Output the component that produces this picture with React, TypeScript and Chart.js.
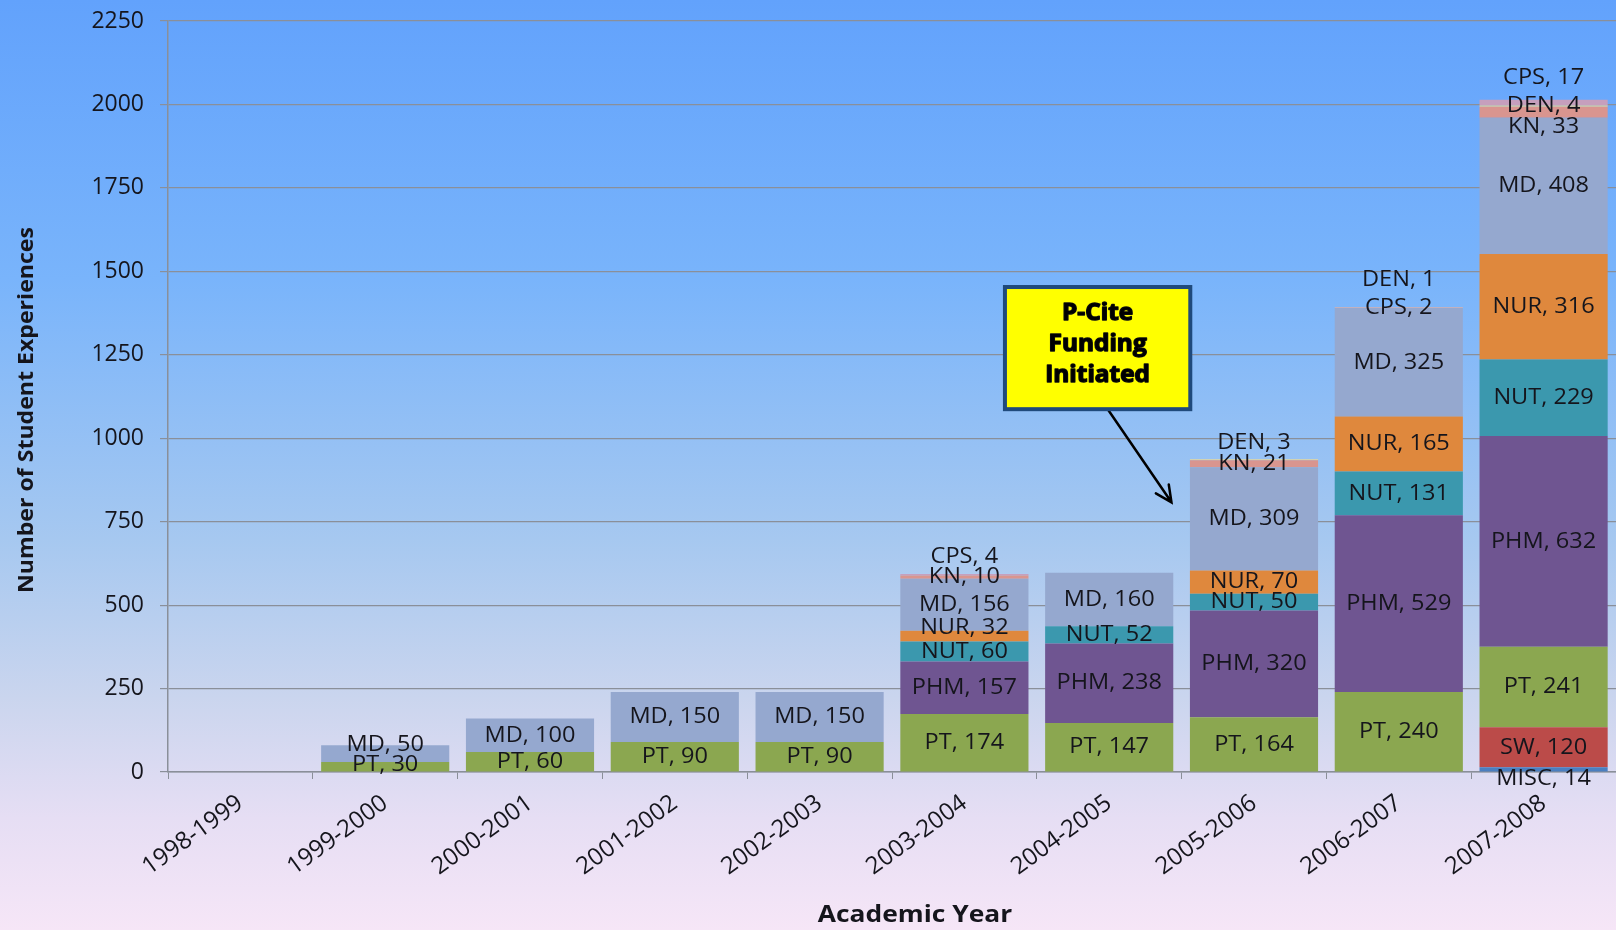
import React, { useEffect, useRef } from 'react';
import { Chart, registerables } from 'chart.js';

Chart.register(...registerables);

// ---------- DATA ----------
const categories = [
  '1998-1999', '1999-2000', '2000-2001', '2001-2002', '2002-2003',
  '2003-2004', '2004-2005', '2005-2006', '2006-2007', '2007-2008',
];

const MISC = [null, null, null, null, null, null, null, null, null, 14];
const SW = [null, null, null, null, null, null, null, null, null, 120];
const PT = [null, 30, 60, 90, 90, 174, 147, 164, 240, 241];
const PHM = [null, null, null, null, null, 157, 238, 320, 529, 632];
const NUT = [null, null, null, null, null, 60, 52, 50, 131, 229];
const NUR = [null, null, null, null, null, 32, null, 70, 165, 316];
const MD = [null, 50, 100, 150, 150, 156, 160, 309, 325, 408];
const KN = [null, null, null, null, null, 10, null, 21, null, 33];
const DEN = [null, null, null, null, null, null, null, 3, 1, 4];
const CPS = [null, null, null, null, null, 4, null, null, 2, 17];

const seriesNames = ['MISC', 'SW', 'PT', 'PHM', 'NUT', 'NUR', 'MD', 'KN', 'DEN', 'CPS'];
const seriesValues = [MISC, SW, PT, PHM, NUT, NUR, MD, KN, DEN, CPS];

const yMin = 0;
const yMax = 2250;
const yStep = 250;

const yTitle = 'Number of Student Experiences';
const xTitle = 'Academic Year';
const calloutLines = ['P-Cite', 'Funding', 'Initiated'];

// ---------- STYLE / LAYOUT ----------
const seriesColors: Record<string, string> = {
  MISC: '#4a7fc0',
  SW: '#bb4b49',
  PT: '#8ba750',
  PHM: '#6f5591',
  NUT: '#3b98ae',
  NUR: '#df883d',
  MD: '#95a8cf',
  KN: '#d9958f',
  DEN: '#e6d89c',
  CPS: '#c69fbd',
};

// vertical pixel nudges for labels of small segments (series@categoryIndex)
const labelNudge: Record<string, number> = {
  'MD@1': -9,
  'PT@1': -2,
  'CPS@5': -18,
  'NUR@5': -8,
  'DEN@7': -17,
  'DEN@8': -28,
  'CPS@9': -25,
  'KN@9': 14,
  'MISC@9': 9,
};

// callout placement in data units (category index, value)
const calloutBox = { xFrom: 5.28, xTo: 6.56, yFrom: 1087, yTo: 1453 };
const calloutArrow = { x0: 5.99, y0: 1087, x1: 6.43, y1: 808 };

const FONT = '"Open Sans", "Noto Sans", sans-serif';
const GRID = '#8a8f99';
const TEXT = '#15151c';

const overlayPlugin = {
  id: 'overlay',
  afterDatasetsDraw(chart: any) {
    const ctx = chart.ctx as CanvasRenderingContext2D;
    ctx.save();
    ctx.font = `22px ${FONT}`;
    ctx.fillStyle = TEXT;
    ctx.textAlign = 'center';
    ctx.textBaseline = 'middle';
    chart.data.datasets.forEach((ds: any, di: number) => {
      const meta = chart.getDatasetMeta(di);
      meta.data.forEach((bar: any, i: number) => {
        const v = ds.data[i];
        if (v === null || v === undefined) return;
        const p = bar.getProps(['x', 'y', 'base'], true);
        const nudge = labelNudge[`${ds.label}@${i}`] || 0;
        ctx.save();
        ctx.translate(p.x, (p.y + p.base) / 2 + nudge);
        ctx.scale(1.07, 1);
        ctx.fillText(`${ds.label}, ${v}`, 0, 0);
        ctx.restore();
      });
    });
    ctx.restore();
  },
  afterDraw(chart: any) {
    const ctx = chart.ctx as CanvasRenderingContext2D;
    const xs = chart.scales.x;
    const ys = chart.scales.y;
    ctx.save();
    // axis titles
    ctx.fillStyle = TEXT;
    ctx.textAlign = 'center';
    ctx.textBaseline = 'middle';
    ctx.save();
    ctx.translate(915, 915);
    ctx.scale(1.1, 1);
    ctx.font = `bold 24px ${FONT}`;
    ctx.fillText(xTitle, 0, 0);
    ctx.restore();
    ctx.save();
    ctx.translate(27, 410);
    ctx.rotate(-Math.PI / 2);
    ctx.scale(1.05, 1);
    ctx.font = `bold 22px ${FONT}`;
    ctx.fillText(yTitle, 0, 0);
    ctx.restore();

    // arrow
    const ax0 = xs.getPixelForValue(calloutArrow.x0);
    const ay0 = ys.getPixelForValue(calloutArrow.y0);
    const ax1 = xs.getPixelForValue(calloutArrow.x1);
    const ay1 = ys.getPixelForValue(calloutArrow.y1);
    ctx.strokeStyle = '#000';
    ctx.lineWidth = 2.5;
    ctx.lineCap = 'round';
    ctx.beginPath();
    ctx.moveTo(ax0, ay0);
    ctx.lineTo(ax1, ay1);
    const ang = Math.atan2(ay1 - ay0, ax1 - ax0);
    const hl = 18;
    ctx.moveTo(ax1 - hl * Math.cos(ang - 0.45), ay1 - hl * Math.sin(ang - 0.45));
    ctx.lineTo(ax1, ay1);
    ctx.lineTo(ax1 - hl * Math.cos(ang + 0.45), ay1 - hl * Math.sin(ang + 0.45));
    ctx.stroke();

    // callout box
    const bx0 = xs.getPixelForValue(calloutBox.xFrom);
    const bx1 = xs.getPixelForValue(calloutBox.xTo);
    const by0 = ys.getPixelForValue(calloutBox.yTo);
    const by1 = ys.getPixelForValue(calloutBox.yFrom);
    ctx.fillStyle = '#ffff00';
    ctx.fillRect(bx0, by0, bx1 - bx0, by1 - by0);
    ctx.strokeStyle = '#1f4a7c';
    ctx.lineWidth = 4;
    ctx.lineCap = 'butt';
    ctx.strokeRect(bx0, by0, bx1 - bx0, by1 - by0);
    ctx.font = `bold 23px ${FONT}`;
    ctx.fillStyle = '#000';
    ctx.strokeStyle = '#111';
    ctx.lineWidth = 1.4;
    ctx.lineJoin = 'round';
    const cx = (bx0 + bx1) / 2;
    const cy = (by0 + by1) / 2;
    const lh = 31;
    calloutLines.forEach((t, k) => {
      const ty = cy + (k - (calloutLines.length - 1) / 2) * lh - 4;
      ctx.save();
      ctx.translate(cx, ty);
      ctx.scale(1.06, 1);
      ctx.strokeText(t, 0, 0);
      ctx.fillText(t, 0, 0);
      ctx.restore();
    });
    ctx.restore();
  },
};

export default function App() {
  const ref = useRef<HTMLCanvasElement | null>(null);

  useEffect(() => {
    if (!ref.current) return;
    const chart = new Chart(ref.current, {
      type: 'bar',
      data: {
        labels: categories,
        datasets: seriesNames.map((name, k) => ({
          label: name,
          data: seriesValues[k] as any,
          backgroundColor: seriesColors[name],
          borderWidth: 0,
          categoryPercentage: 1,
          barPercentage: 0.885,
        })),
      },
      options: {
        responsive: false,
        animation: false,
        devicePixelRatio: 1,
        layout: { padding: { top: 21, right: 0, left: 0, bottom: 0 } },
        plugins: {
          legend: { display: false },
          tooltip: { enabled: false },
        },
        scales: {
          x: {
            stacked: true,
            grid: {
              display: true,
              drawOnChartArea: false,
              drawTicks: true,
              tickLength: 7,
              color: GRID,
              offset: true,
            },
            border: { display: true, color: GRID, width: 1.5 },
            ticks: {
              color: TEXT,
              font: { family: FONT, size: 24 },
              minRotation: 36,
              maxRotation: 36,
              padding: 10,
              autoSkip: false,
            },
            afterFit: (s: any) => {
              s.height = 158;
            },
          },
          y: {
            stacked: true,
            min: yMin,
            max: yMax,
            ticks: {
              stepSize: yStep,
              color: TEXT,
              font: { family: FONT, size: 23 },
              padding: 16,
              callback: (v: any) => String(v),
            },
            grid: {
              color: GRID,
              lineWidth: 1.2,
              drawTicks: true,
              tickLength: 8,
            },
            border: { display: true, color: GRID, width: 1.5 },
            afterFit: (s: any) => {
              s.width = 168;
              s.paddingTop = 0;
              s.paddingBottom = 0;
            },
          },
        },
      },
      plugins: [overlayPlugin],
    });
    return () => chart.destroy();
  }, []);

  return (
    <div
      style={{
        position: 'absolute',
        left: 0,
        top: 0,
        width: 1616,
        height: 930,
        overflow: 'hidden',
        background:
          'linear-gradient(to bottom, #62a2fc 0%, #79b4fb 30%, #a6c8f0 58%, #cad5ee 75%, #e6def4 88%, #f6e6f7 100%)',
      }}
    >
      <canvas ref={ref} width={1616} height={930} style={{ display: 'block' }} />
    </div>
  );
}
